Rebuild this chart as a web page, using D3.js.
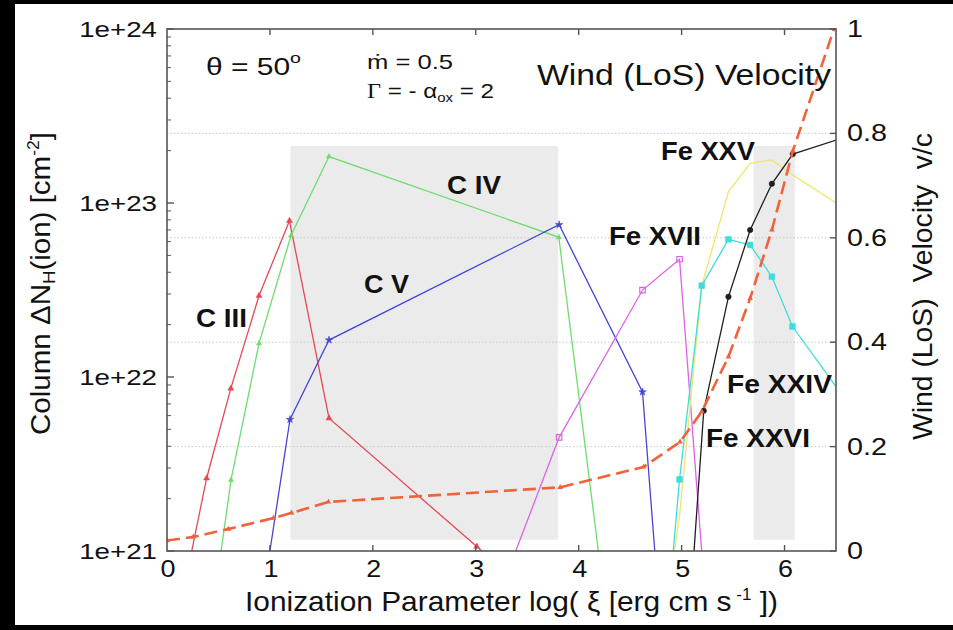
<!DOCTYPE html>
<html>
<head>
<meta charset="utf-8">
<script src="https://cdn.jsdelivr.net/npm/d3@7"></script>
<style>
  html, body { margin: 0; padding: 0; background: #000; }
  svg { display: block; }
  text { font-family: "Liberation Sans", Arial, Helvetica, sans-serif; fill: #111; }
</style>
</head>
<body>
<svg id="chart" width="953" height="630"></svg>
<script>
// ---- data: column density per ion vs. log(xi) ----
const xiCIII   = [0.13, 0.385, 0.62, 0.894, 1.19, 1.574, 3.01, 3.3];
const colCIII  = [4.8e20, 2.62e21, 8.6e21, 2.93e22, 7.9e22, 5.8e21, 1.06e21, 7.5e20];

const xiCIV    = [0.3, 0.622, 0.894, 1.205, 1.574, 3.807, 4.6];
const colCIV   = [1.1e20, 2.56e21, 1.56e22, 6.5e22, 1.85e23, 6.35e22, 1.2e19];

const xiCV     = [0.9, 1.195, 1.574, 3.81, 4.62, 5.0];
const colCV    = [4.1e20, 5.7e21, 1.63e22, 7.5e22, 8.2e21, 1e19];

const xiFeXVII  = [3.0, 3.81, 4.62, 4.98, 5.4];
const colFeXVII = [2.5e20, 4.5e21, 3.16e22, 4.75e22, 2.5e19];

const xiFe      = [4.62, 4.98, 5.196, 5.455, 5.666, 5.877, 6.077, 6.6];
const colFeXXV  = [5e19, 1.6e21, 3.35e22, 1.16e23, 1.69e23, 1.77e23, 1.45e23, 9.2e22];
const colFeXXIV = [1e19, 2.58e21, 3.35e22, 6.18e22, 5.74e22, 3.77e22, 1.95e22, 7.3e21];

const xiFeXXVI  = [4.98, 5.215, 5.455, 5.666, 5.877, 6.08, 6.6];
const colFeXXVI = [6.3e19, 6.4e21, 2.89e22, 7.0e22, 1.29e23, 1.91e23, 2.4e23];

// wind line-of-sight velocity (v/c), right axis
const xiVel = [0, 0.256, 0.596, 1.033, 1.21, 1.568, 3.82, 4.63, 4.985, 5.196, 5.455, 5.666, 5.877, 6.08, 6.6];
const vel   = [0.02, 0.027, 0.042, 0.063, 0.073, 0.094, 0.122, 0.161, 0.209, 0.267, 0.372, 0.484, 0.615, 0.766, 1.07];

// shaded ionization bands: [xi0, xi1]
const bandXi  = [[1.2, 3.8], [5.7, 6.1]];
const bandCol = [1.16e21, 2.13e23];

// axis ticks
const xTicks    = [0, 1, 2, 3, 4, 5, 6];
const yTicks    = [1e21, 1e22, 1e23, 1e24];
const yTickText = ["1e+21", "1e+22", "1e+23", "1e+24"];
const vTicks    = [0, 0.2, 0.4, 0.6, 0.8, 1];
const vTickText = ["0", "0.2", "0.4", "0.6", "0.8", "1"];
const vGrid     = [0.2, 0.4, 0.6, 0.8];

// ---- layout ----
const svg = d3.select("#chart");
const L = 167, R = 836, T = 29, B = 551;

svg.append("rect").attr("width", 953).attr("height", 630).attr("fill", "#000");
svg.append("rect").attr("x", 15).attr("y", 4).attr("width", 938).attr("height", 621).attr("fill", "#fff");

const x  = d3.scaleLinear().domain([0, 6.5]).range([L, R]);
const y  = d3.scaleLog().domain([1e21, 1e24]).range([B, T]);
const yv = d3.scaleLinear().domain([0, 1]).range([B, T]);

svg.append("defs").append("clipPath").attr("id", "plotclip")
  .append("rect").attr("x", L).attr("y", T).attr("width", R - L).attr("height", B - T);

const plot = svg.append("g").attr("clip-path", "url(#plotclip)");

// shaded bands
plot.selectAll("rect.band").data(bandXi).join("rect")
  .attr("class", "band")
  .attr("x", d => x(d[0])).attr("width", d => x(d[1]) - x(d[0]))
  .attr("y", y(bandCol[1])).attr("height", y(bandCol[0]) - y(bandCol[1]))
  .attr("fill", "#ebebeb");

// dotted grid on velocity ticks
plot.selectAll("line.grid").data(vGrid).join("line")
  .attr("class", "grid")
  .attr("x1", L).attr("x2", R)
  .attr("y1", d => yv(d)).attr("y2", d => yv(d))
  .attr("stroke", "#c8c8c8").attr("stroke-width", 1).attr("stroke-dasharray", "1.5,2");

// ion curves
const lineCol = d3.line().x(d => x(d[0])).y(d => y(Math.max(d[1], 1e15)));
const series = [
  { xs: xiCIII,   ys: colCIII,   color: "#e44a55", sym: d3.symbolTriangle, size: 16, fill: true },
  { xs: xiCIV,    ys: colCIV,    color: "#6fdc6f", sym: d3.symbolTriangle, size: 12, fill: true },
  { xs: xiCV,     ys: colCV,     color: "#4646d6", sym: d3.symbolStar,     size: 18, fill: true },
  { xs: xiFeXVII, ys: colFeXVII, color: "#df62e6", sym: d3.symbolSquare,   size: 30, fill: false },
  { xs: xiFe,     ys: colFeXXV,  color: "#f2e46e", sym: null },
  { xs: xiFe,     ys: colFeXXIV, color: "#3fdcdc", sym: d3.symbolSquare,   size: 34, fill: true },
  { xs: xiFeXXVI, ys: colFeXXVI, color: "#1e1e1e", sym: d3.symbolCircle,   size: 24, fill: true }
];

series.forEach(s => {
  const pts = s.xs.map((v, i) => [v, s.ys[i]]);
  plot.append("path").datum(pts)
    .attr("d", lineCol)
    .attr("fill", "none").attr("stroke", s.color).attr("stroke-width", 1.3);
  if (s.sym) {
    plot.selectAll(null).data(pts.filter(p => p[1] >= 1e21 && p[0] <= 6.5)).join("path")
      .attr("transform", p => `translate(${x(p[0])},${y(p[1])})`)
      .attr("d", d3.symbol().type(s.sym).size(s.size))
      .attr("fill", s.fill ? s.color : "none")
      .attr("stroke", s.color).attr("stroke-width", s.fill ? 0.5 : 1.2);
  }
});

// wind velocity (dashed)
const velPts = xiVel.map((v, i) => [v, vel[i]]);
plot.append("path").datum(velPts)
  .attr("d", d3.line().x(d => x(d[0])).y(d => yv(d[1])))
  .attr("fill", "none").attr("stroke", "#f0623a").attr("stroke-width", 2.6)
  .attr("stroke-dasharray", "13,6");
plot.selectAll(null).data(velPts.filter(p => p[1] <= 1)).join("path")
  .attr("transform", p => `translate(${x(p[0])},${yv(p[1])})`)
  .attr("d", d3.symbol().type(d3.symbolTriangle).size(14))
  .attr("fill", "#f0623a");

// ---- axes ----
const axisColor = "#555";
const frame = svg.append("g");
frame.append("rect").attr("x", L).attr("y", T).attr("width", R - L).attr("height", B - T)
  .attr("fill", "none").attr("stroke", axisColor).attr("stroke-width", 1.6);

// x ticks, bottom and top, pointing inward
frame.selectAll("line.xb").data(xTicks.slice(1)).join("line")
  .attr("x1", d => x(d)).attr("x2", d => x(d)).attr("y1", B).attr("y2", B - 6)
  .attr("stroke", axisColor).attr("stroke-width", 1.4);
frame.selectAll("line.xt").data(xTicks.slice(1)).join("line")
  .attr("x1", d => x(d)).attr("x2", d => x(d)).attr("y1", T).attr("y2", T + 6)
  .attr("stroke", axisColor).attr("stroke-width", 1.4);

// left log ticks: majors and minors
const minor = [];
[1e21, 1e22, 1e23].forEach(dec => { for (let k = 2; k <= 9; k++) minor.push(dec * k); });
frame.selectAll("line.ym").data(yTicks).join("line")
  .attr("x1", L).attr("x2", L + 7).attr("y1", d => y(d)).attr("y2", d => y(d))
  .attr("stroke", axisColor).attr("stroke-width", 1.4);
frame.selectAll("line.yn").data(minor).join("line")
  .attr("x1", L).attr("x2", L + 4).attr("y1", d => y(d)).attr("y2", d => y(d))
  .attr("stroke", axisColor).attr("stroke-width", 1);

// right velocity ticks
frame.selectAll("line.v").data(vTicks).join("line")
  .attr("x1", R).attr("x2", R - 6).attr("y1", d => yv(d)).attr("y2", d => yv(d))
  .attr("stroke", axisColor).attr("stroke-width", 1.4);

// tick labels
const tickFont = 23;
svg.selectAll("text.xt").data(xTicks).join("text")
  .attr("text-anchor", "middle")
  .attr("transform", d => `translate(${x(d) + 1},${B + 26}) scale(1.17,1)`)
  .attr("font-size", tickFont)
  .text(d => d);

svg.selectAll("text.yt").data(yTicks).join("text")
  .attr("text-anchor", "end")
  .attr("dominant-baseline", "central")
  .attr("transform", d => `translate(${L - 10},${y(d)}) scale(1.26,1)`)
  .attr("font-size", 22)
  .text((d, i) => yTickText[i]);

svg.selectAll("text.vt").data(vTicks).join("text")
  .attr("text-anchor", "start")
  .attr("dominant-baseline", "central")
  .attr("transform", d => `translate(${R + 11},${yv(d)}) scale(1.25,1)`)
  .attr("font-size", tickFont)
  .text((d, i) => vTickText[i]);

function fit(sel, w) {
  return sel.attr("textLength", w).attr("lengthAdjust", "spacingAndGlyphs");
}

// x axis title
const xt = svg.append("text").attr("x", 245).attr("y", 611).attr("font-size", 28);
xt.append("tspan").text("Ionization Parameter log( ξ [erg cm s");
xt.append("tspan").attr("font-size", 16).attr("dy", -11).text(" -1");
xt.append("tspan").attr("dy", 11).text(" ])");
fit(xt, 533);

// left y title
const yl = svg.append("text")
  .attr("transform", `translate(50,435) rotate(-90)`)
  .attr("font-size", 27);
yl.append("tspan").text("Column ΔN");
yl.append("tspan").attr("font-size", 17).attr("dy", 5).text("H");
yl.append("tspan").attr("dy", -5).text("(ion) [cm");
yl.append("tspan").attr("font-size", 16).attr("dy", -11).text("-2");
yl.append("tspan").attr("dy", 11).text("]");
fit(yl, 303);

// right y title
const yr = svg.append("text")
  .attr("transform", `translate(932,440) rotate(-90)`)
  .attr("font-size", 27)
  .attr("xml:space", "preserve")
  .text("Wind (LoS)  Velocity  v/c");
fit(yr, 307);

// model parameters
const th = svg.append("text").attr("x", 206).attr("y", 75).attr("font-size", 23);
th.append("tspan").text("θ = 50");
th.append("tspan").attr("font-size", 15).attr("dy", -12).text("o");
fit(th, 95);

fit(svg.append("text").attr("x", 367).attr("y", 69).attr("font-size", 21).text("ṁ = 0.5"), 86);

const gm = svg.append("text").attr("x", 367).attr("y", 98).attr("font-size", 21);
gm.append("tspan").attr("font-family", "Liberation Serif, Times New Roman, serif").text("Γ");
gm.append("tspan").text(" = - α");
gm.append("tspan").attr("font-size", 13).attr("dy", 4).text("ox");
gm.append("tspan").attr("dy", -4).text(" = 2");
fit(gm, 127);

fit(svg.append("text").attr("x", 537).attr("y", 85).attr("font-size", 29).text("Wind (LoS) Velocity"), 294);

// ion labels
const ionLabels = [
  { t: "C III",   x: 196, y: 327, w: 51 },
  { t: "C IV",    x: 447, y: 194, w: 54 },
  { t: "C V",     x: 364, y: 293, w: 45 },
  { t: "Fe XVII", x: 609, y: 245, w: 92 },
  { t: "Fe XXV",  x: 661, y: 160, w: 94 },
  { t: "Fe XXIV", x: 727, y: 393, w: 105 },
  { t: "Fe XXVI", x: 706, y: 447, w: 104 }
];
ionLabels.forEach(d => {
  fit(svg.append("text").attr("x", d.x).attr("y", d.y)
    .attr("font-size", 25).attr("font-weight", "bold").text(d.t), d.w);
});
</script>
</body>
</html>
